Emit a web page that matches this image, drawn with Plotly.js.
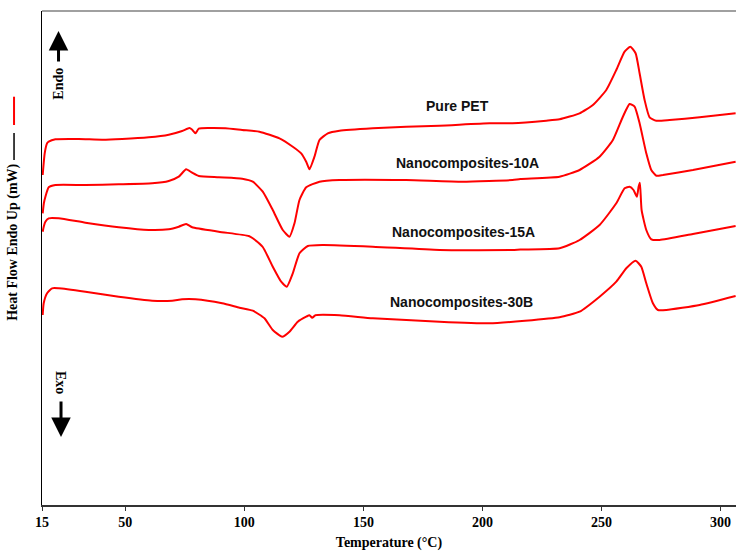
<!DOCTYPE html>
<html>
<head>
<meta charset="utf-8">
<script src="https://cdn.plot.ly/plotly-3.0.1.min.js"></script>
<style>html,body{margin:0;padding:0;background:#fff;}#chart{width:736px;height:551px;}</style>
</head>
<body>
<div id="chart"></div>
<script>
// Temperature (°C) and heat flow (arbitrary, endo up)
const petT = [15.29,16.13,17.14,17.82,20.63,30.42,40.25,48.66,59.83,68.24,73.87,76.93,77.98,79.45,80.84,85.04,92.06,99.08,106.34,114.75,120.34,123.87,125.97,127.35,129.45,131.55,135.04,139.96,153.95,167.98,181.97,202.98,212.65,226.81,232.39,240.8,246.39,252.02,256.22,259.71,262.1,264.33,266.01,268.11,270.21,273.03,278.61,291.22,306.34];
const petH = [33.0,35.17,36.17,36.33,36.57,36.6,36.53,36.6,36.77,37.03,37.4,37.7,37.55,37.17,37.63,37.7,37.67,37.5,37.33,36.67,35.83,35.17,34.33,33.57,34.83,36.5,37.17,37.43,37.67,37.83,37.93,38.17,38.17,38.43,38.57,39.17,40.0,41.5,43.5,45.33,45.83,45.17,43.17,40.5,38.77,38.43,38.5,38.77,39.17];

const n10T = [15.29,15.8,16.43,17.82,20.63,33.24,47.23,61.26,68.24,72.44,75.55,78.07,80.84,89.24,99.08,103.53,107.73,111.93,116.13,118.95,121.05,123.15,125.97,131.55,139.96,167.98,191.64,212.65,215.92,232.39,240.8,249.2,254.79,258.99,261.81,263.91,266.01,268.82,270.92,273.03,275.8,288.4,306.34];
const n10H = [29.17,30.2,30.83,31.77,32.0,32.0,32.07,32.17,32.4,32.83,33.57,33.23,32.9,32.77,32.63,32.33,31.33,29.5,27.5,26.83,28.17,30.5,31.77,32.33,32.5,32.5,32.33,32.5,32.6,32.83,33.5,34.83,36.5,38.83,40.1,39.83,38.17,35.17,33.5,32.93,33.0,33.5,34.33];

const n15T = [15.29,15.8,16.43,17.82,22.02,33.24,47.23,59.83,68.24,72.44,75.55,78.07,89.24,101.85,103.53,107.73,111.93,115.46,117.82,120.34,123.15,126.64,132.94,153.95,181.97,212.65,215.92,232.39,240.8,249.2,256.22,259.71,261.81,263.45,264.88,265.59,266.13,266.85,268.82,270.92,274.41,288.4,306.34];
const n15H = [27.33,27.9,28.33,28.67,28.67,28.23,27.77,27.5,27.57,27.83,28.1,27.77,27.33,26.9,26.67,25.8,23.83,22.33,21.83,23.17,25.17,25.9,26.0,25.83,25.5,25.5,25.55,25.67,26.5,28.0,30.17,31.67,31.83,31.5,30.83,31.83,32.23,29.5,27.5,26.57,26.5,27.1,27.9];

const n30T = [15.29,15.71,17.14,19.24,22.02,33.24,47.23,61.26,69.66,73.87,79.45,90.67,97.94,103.53,108.45,111.93,115.88,118.95,122.44,125.97,127.35,128.49,129.87,139.96,153.95,181.97,202.98,217.87,232.39,240.8,249.2,256.22,260.42,264.33,266.72,268.82,271.6,273.7,277.23,291.22,306.34];
const n30H = [19.0,20.17,21.17,21.67,21.67,21.33,20.83,20.43,20.43,20.57,20.57,20.17,19.73,19.43,18.67,17.5,16.83,17.33,18.33,18.83,18.97,18.73,18.97,18.97,18.67,18.33,18.17,18.42,18.77,19.33,20.83,22.33,23.67,24.43,23.83,22.17,20.17,19.5,19.5,20.0,20.9];

const seriesNames = ['Pure PET','Nanocomposites-10A','Nanocomposites-15A','Nanocomposites-30B'];
const labelT = [189.5,193.9,192.0,191.1];
const labelH = [39.9,34.17,27.33,20.33];
const tickVals = [15,50,100,150,200,250,300];

const xs = [petT,n10T,n15T,n30T];
const ys = [petH,n10H,n15H,n30H];
const traces = xs.map((x,i)=>({
  x:x, y:ys[i], type:'scatter', mode:'lines', name:seriesNames[i],
  line:{color:'#ff0000', width:2, shape:'spline', smoothing:0.5},
  hoverinfo:'skip', showlegend:false
}));

const serif = 'Liberation Serif, Times New Roman, serif';
const sans = 'Liberation Sans, Arial, sans-serif';

const annotations = seriesNames.map((s,i)=>({
  x:labelT[i], y:labelH[i], xref:'x', yref:'y', text:s, showarrow:false,
  xanchor:'center', yanchor:'middle',
  font:{family:sans, size:14, color:'#111', weight:'bold'}
}));

annotations.push(
  {xref:'paper', yref:'paper', x:-0.0411, y:0.5316, xanchor:'center', yanchor:'middle',
   textangle:-90, showarrow:false, text:'Heat Flow Endo Up (mW)',
   font:{family:serif, size:14, color:'#000', weight:'bold'}},
  {xref:'paper', yref:'paper', x:0.0238, y:0.852, xanchor:'center', yanchor:'middle',
   textangle:-90, showarrow:false, text:'Endo',
   font:{family:serif, size:14, color:'#000', weight:'bold'}},
  {xref:'paper', yref:'paper', x:0.0267, y:0.248, xanchor:'center', yanchor:'middle',
   textangle:90, showarrow:false, text:'Exo',
   font:{family:serif, size:14, color:'#000', weight:'bold'}},
  {xref:'paper', yref:'paper', x:0.0238, y:0.9595, text:'', showarrow:true,
   ax:0, ay:32, arrowhead:2, arrowsize:1.3, arrowwidth:3, arrowcolor:'#000'},
  {xref:'paper', yref:'paper', x:0.0274, y:0.1377, text:'', showarrow:true,
   ax:0, ay:-37, arrowhead:2, arrowsize:1.3, arrowwidth:3, arrowcolor:'#000'}
);

const layout = {
  width:736, height:551,
  margin:{l:42, r:0, t:11, b:46},
  paper_bgcolor:'#fff', plot_bgcolor:'#fff',
  showlegend:false,
  xaxis:{
    range:[15,306.5], tickvals:tickVals, ticktext:tickVals.map(String),
    showgrid:false, zeroline:false, showline:true, linecolor:'#333', linewidth:1.5,
    ticks:'outside', ticklen:4, tickcolor:'#333', tickwidth:1,
    tickfont:{family:serif, size:14, color:'#000', weight:'bold'},
    title:{text:'Temperature (°C)', standoff:8, font:{family:serif, size:14, color:'#000', weight:'bold'}},
    automargin:false
  },
  yaxis:{
    range:[0,49.4], showgrid:false, zeroline:false, showline:true, linecolor:'#000', linewidth:1.5,
    ticks:'', showticklabels:false, automargin:false
  },
  shapes:[
    {type:'line', xref:'paper', yref:'paper', x0:0, x1:1, y0:1, y1:1,
     line:{color:'#808080', width:1.5}},
    {type:'line', xref:'paper', yref:'paper', x0:-0.0403, x1:-0.0403, y0:0.6984, y1:0.7530,
     line:{color:'#000', width:1.5}},
    {type:'line', xref:'paper', yref:'paper', x0:-0.0403, x1:-0.0403, y0:0.7692, y1:0.8265,
     line:{color:'#ff0000', width:2}}
  ],
  annotations:annotations
};

Plotly.newPlot('chart', traces, layout, {displayModeBar:false, staticPlot:true});
</script>
</body>
</html>
